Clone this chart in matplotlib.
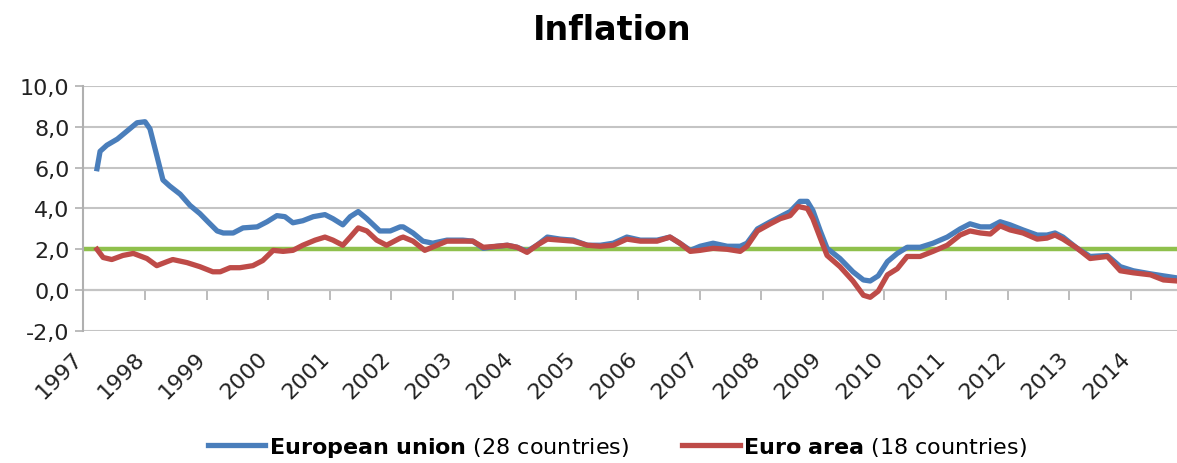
import numpy as np
import matplotlib
matplotlib.use('Agg')
import matplotlib.pyplot as plt
import matplotlib.transforms as mtransforms

# European union (28 countries), annual rate
eu_dates = [1997.22, 1997.27, 1997.38, 1997.55, 1997.71, 1997.87, 1998.00, 1998.08, 1998.19, 1998.29,
            1998.40, 1998.57, 1998.73, 1998.89, 1999.02, 1999.17, 1999.27, 1999.43, 1999.59, 1999.82,
            1999.98, 2000.14, 2000.27, 2000.40, 2000.56, 2000.73, 2000.92, 2001.05, 2001.21, 2001.33,
            2001.46, 2001.60, 2001.81, 2001.98, 2002.14, 2002.19, 2002.35, 2002.51, 2002.67, 2002.90,
            2003.16, 2003.32, 2003.49, 2003.71, 2003.88, 2004.04, 2004.20, 2004.36, 2004.53, 2004.74,
            2004.95, 2005.18, 2005.39, 2005.60, 2005.82, 2006.04, 2006.31, 2006.52, 2006.68, 2006.85,
            2007.01, 2007.22, 2007.45, 2007.66, 2007.77, 2007.94, 2008.15, 2008.31, 2008.47, 2008.63,
            2008.75, 2008.84, 2008.96, 2009.07, 2009.28, 2009.49, 2009.66, 2009.77, 2009.90, 2010.05,
            2010.21, 2010.37, 2010.58, 2010.79, 2011.02, 2011.23, 2011.39, 2011.56, 2011.72, 2011.88,
            2012.04, 2012.25, 2012.48, 2012.64, 2012.77, 2012.90, 2013.13, 2013.34, 2013.62, 2013.83,
            2014.04, 2014.32, 2014.53, 2014.75]
eu_vals = [5.95, 6.8, 7.1, 7.4, 7.8, 8.2, 8.25, 7.9, 6.6, 5.4,
           5.1, 4.7, 4.15, 3.75, 3.35, 2.9, 2.8, 2.8, 3.05, 3.1,
           3.35, 3.65, 3.6, 3.3, 3.4, 3.6, 3.7, 3.5, 3.2, 3.6,
           3.85, 3.5, 2.9, 2.9, 3.1, 3.1, 2.8, 2.4, 2.3, 2.45,
           2.45, 2.4, 2.05, 2.15, 2.2, 2.1, 1.9, 2.2, 2.6, 2.5,
           2.45, 2.2, 2.2, 2.3, 2.6, 2.45, 2.45, 2.6, 2.3, 1.95,
           2.15, 2.3, 2.15, 2.15, 2.3, 3.0, 3.35, 3.6, 3.85, 4.35,
           4.35, 3.9, 2.9, 2.05, 1.55, 0.9, 0.5, 0.45, 0.7, 1.4,
           1.8, 2.1, 2.1, 2.3, 2.6, 3.0, 3.25, 3.1, 3.1, 3.35,
           3.2, 2.95, 2.7, 2.7, 2.8, 2.6, 2.05, 1.65, 1.7, 1.15,
           0.95, 0.8, 0.7, 0.6]

# Euro area (18 countries)
ea_dates = [1997.22, 1997.32, 1997.46, 1997.64, 1997.81, 1998.03, 1998.19, 1998.36, 1998.45, 1998.68,
            1998.89, 1999.10, 1999.22, 1999.38, 1999.54, 1999.75, 1999.91, 2000.08, 2000.24, 2000.40,
            2000.56, 2000.76, 2000.92, 2001.05, 2001.21, 2001.33, 2001.46, 2001.60, 2001.76, 2001.92,
            2002.14, 2002.19, 2002.35, 2002.54, 2002.74, 2002.90, 2003.16, 2003.32, 2003.49, 2003.71,
            2003.88, 2004.04, 2004.20, 2004.36, 2004.53, 2004.74, 2004.95, 2005.18, 2005.39, 2005.60,
            2005.82, 2006.04, 2006.31, 2006.52, 2006.68, 2006.85, 2007.01, 2007.22, 2007.45, 2007.66,
            2007.77, 2007.94, 2008.15, 2008.31, 2008.47, 2008.60, 2008.75, 2008.84, 2008.96, 2009.07,
            2009.28, 2009.49, 2009.66, 2009.77, 2009.90, 2010.05, 2010.21, 2010.37, 2010.58, 2010.79,
            2011.02, 2011.23, 2011.39, 2011.56, 2011.72, 2011.88, 2012.04, 2012.25, 2012.48, 2012.64,
            2012.77, 2012.90, 2013.13, 2013.34, 2013.62, 2013.83, 2014.04, 2014.32, 2014.53, 2014.75]
ea_vals = [2.0, 1.6, 1.5, 1.7, 1.8, 1.55, 1.2, 1.4, 1.5, 1.35,
           1.15, 0.9, 0.9, 1.1, 1.1, 1.2, 1.45, 1.95, 1.9, 1.95,
           2.2, 2.45, 2.6, 2.45, 2.2, 2.6, 3.05, 2.9, 2.45, 2.2,
           2.55, 2.6, 2.4, 1.95, 2.2, 2.4, 2.4, 2.4, 2.1, 2.15,
           2.2, 2.1, 1.85, 2.2, 2.5, 2.45, 2.4, 2.2, 2.15, 2.2,
           2.5, 2.4, 2.4, 2.6, 2.3, 1.9, 1.95, 2.05, 2.0, 1.9,
           2.15, 2.9, 3.25, 3.5, 3.65, 4.1, 4.0, 3.5, 2.55, 1.7,
           1.15, 0.45, -0.25, -0.35, -0.05, 0.75, 1.05, 1.65, 1.65, 1.9,
           2.2, 2.7, 2.9, 2.8, 2.75, 3.15, 2.95, 2.8, 2.5, 2.55,
           2.7, 2.5, 2.05, 1.55, 1.65, 0.95, 0.85, 0.75, 0.5, 0.45]

target = 2.0
years = list(range(1997, 2015))
yticks = [-2, 0, 2, 4, 6, 8, 10]
ytick_labels = ['-2,0', '0,0', '2,0', '4,0', '6,0', '8,0', '10,0']

fig = plt.figure(figsize=(11.77, 4.64), dpi=100)
ax = fig.add_axes([0.0709, 0.2845, 0.9291, 0.528])

ax.axhline(target, color='#8fc04c', lw=3.2, zorder=2)
ax.plot(eu_dates, eu_vals, color='#4a7ebb', lw=3.8, solid_joinstyle='round', zorder=3,
        label=r'$\mathbf{European\ union}$ (28 countries)')
ax.plot(ea_dates, ea_vals, color='#be4b48', lw=3.8, solid_joinstyle='round', zorder=4,
        label=r'$\mathbf{Euro\ area}$ (18 countries)')

ax.set_xlim(1997, 2014.75)
ax.set_ylim(-2, 10)
ax.set_yticks(yticks)
ax.set_yticklabels(ytick_labels, fontsize=16, color='#222222')
ax.tick_params(axis='y', length=6, width=1.2, color='#b0b0b0', pad=4)
ax.yaxis.grid(True, color='#c4c4c4', lw=1.5)
ax.set_axisbelow(True)
for s in ['top', 'right', 'bottom']:
    ax.spines[s].set_visible(False)
ax.spines['left'].set_color('#b0b0b0')
ax.spines['left'].set_linewidth(1.5)

# year labels at the bottom, ticks hidden
ax.set_xticks(years)
ax.set_xticklabels([str(y) for y in years], fontsize=16, color='#222222')
ax.tick_params(axis='x', length=0, pad=17)
offset = mtransforms.ScaledTranslation(-4 / 100, 0, fig.dpi_scale_trans)
for lab in ax.get_xticklabels():
    lab.set_rotation(45)
    lab.set_ha('right')
    lab.set_va('center')
    lab.set_rotation_mode('anchor')
    lab.set_transform(lab.get_transform() + offset)

# category axis crossing at 0 with tick marks
sec = ax.secondary_xaxis(2 / 12)
sec.set_xticks(years)
sec.set_xticklabels([])
sec.tick_params(axis='x', direction='out', length=7, width=1.2, color='#b0b0b0')
sec.spines['bottom'].set_color('#b0b0b0')
sec.spines['bottom'].set_linewidth(1.5)

fig.text(0.52, 0.935, 'Inflation', ha='center', va='center', fontsize=24, fontweight='bold')

fig.legend(loc='center', bbox_to_anchor=(0.5246, 0.035), ncol=2, frameon=False, fontsize=16,
           handlelength=2.6, handletextpad=0.15, columnspacing=2.4)

fig.savefig('out.png', dpi=100)
